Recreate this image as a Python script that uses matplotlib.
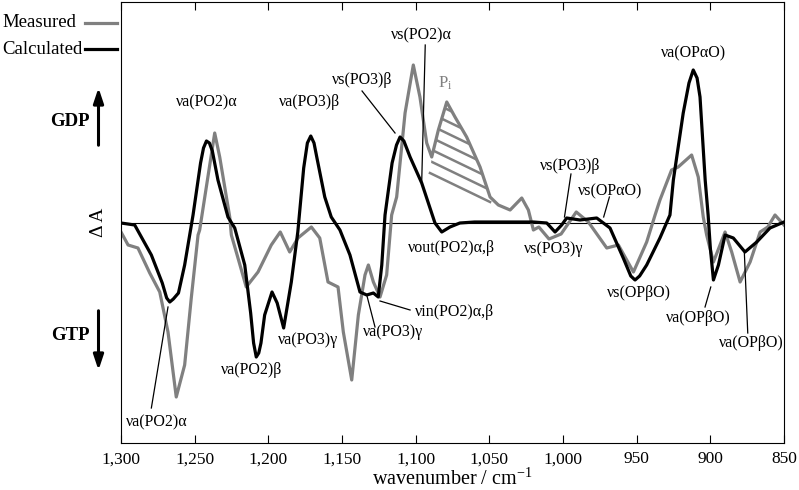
import matplotlib
matplotlib.use('Agg')
import matplotlib.pyplot as plt
from matplotlib.patches import Polygon
from matplotlib.ticker import FuncFormatter
import numpy as np

plt.rcParams['font.family'] = ['Liberation Serif', 'DejaVu Serif']
plt.rcParams['mathtext.fontset'] = 'custom'
plt.rcParams['mathtext.rm'] = 'Liberation Serif'
plt.rcParams['mathtext.it'] = 'Liberation Serif:italic'

# calculated spectrum (wavenumber, delta A in arbitrary units)
calc_x = [1300, 1290.7, 1279.4, 1272, 1269, 1266.9, 1264.5, 1261, 1256.8, 1251.1,
          1246, 1244, 1242, 1240, 1238, 1234.2, 1227.4, 1222.8, 1216, 1212,
          1210, 1208.2, 1206.5, 1205, 1202.5, 1197.5, 1194, 1189.6, 1184.4, 1180,
          1176, 1173.5, 1171.2, 1169, 1167, 1161.7, 1157.3, 1151.4, 1144.6, 1137.8,
          1133.2, 1128.7, 1125.4, 1123, 1120.8, 1116, 1113, 1110.6, 1108, 1103.8,
          1095.9, 1091.4, 1086.9, 1082.3, 1076.7, 1070, 1060, 1040, 1020, 1011,
          1005.4, 1000.9, 997.5, 988.5, 977.1, 968.1, 959.1, 954, 951.1, 948,
          943.2, 934.2, 927.4, 925.1, 918.4, 914.5, 911.6, 909, 907, 903.5,
          901.5, 900, 897.9, 894.5, 890, 884.4, 876.5, 868.5, 859.5, 850]
calc_y = [0, -2, -32, -60, -75, -79, -76, -70, -42, 8,
          60, 75, 82, 80, 72, 43, 6, -5, -42, -90,
          -120, -134, -130, -120, -92, -69, -80, -105, -59, -9,
          55, 80, 87, 80, 65, 26, 6, -7, -32, -69,
          -72, -70, -74, -42, 8, 60, 78, 86, 82, 66,
          40, 20, 0, -9, -4, 0, 1, 1, 1, 0,
          -9, -2, 5, 3, 5, -5, -35, -53, -57, -53,
          -42, -15, 8, 43, 110, 140, 153, 145, 126, 43,
          8, -25, -57, -42, -12, -15, -29, -19, -5, 1]

# measured spectrum
meas_x = [1300, 1295.2, 1288.5, 1280.5, 1273.7, 1268.1, 1262.5, 1256.8, 1252.3, 1247.7,
          1246.6, 1236.4, 1233, 1229.6, 1226.2, 1225.1, 1220.6, 1215, 1207, 1198,
          1191.9, 1185.5, 1179.9, 1170.8, 1165.1, 1159.5, 1152.7, 1149.1, 1143.4, 1138.9,
          1134.4, 1132.1, 1128.7, 1124.2, 1119.7, 1116.3, 1112.9, 1107.2, 1101.6, 1097.1,
          1092.5, 1089.1, 1084.6, 1078.9, 1073.3, 1065.4, 1056.3, 1049.5, 1043.9, 1035.9,
          1028, 1023.5, 1020.1, 1016.4, 1009.5, 1001.3, 991, 982.8, 970.3, 962.4,
          952.2, 943.2, 937.5, 934.2, 926.3, 921.8, 912.7, 908.2, 904.8, 902.5,
          897.9, 890, 885.5, 879.8, 873, 866.2, 861, 856.1, 850]
meas_y = [-9, -22, -25, -50, -69, -109, -174, -142, -75, -12,
          -7, 90, 66, 36, 6, -12, -35, -64, -49, -22,
          -9, -29, -15, -4, -15, -59, -64, -109, -157, -92,
          -52, -42, -59, -74, -52, 8, 26, 110, 158, 126,
          80, 66, 93, 121, 106, 86, 56, 26, 18, 13,
          25, 13, -7, -4, -16, -11, 11, 1, -25, -22,
          -49, -19, 8, 23, 53, 56, 68, 46, 6, -12,
          -39, -9, -29, -59, -39, -9, -4, 8, -2]

# baseline under the Pi band (hatched area)
pi_base_x = [1090.3, 1049.5]
pi_base_y = [50, 21]

# band assignments: (text, x, y, ha, pointer start, pointer end)
labels = [
    (r'νa(PO2)α', 1241.6, 121, 'center', None, None),
    (r'νa(PO3)β', 1171.7, 121, 'center', None, None),
    (r'νs(PO3)β', 1136.0, 143, 'center', (1136.4, 132), (1114, 90)),
    (r'νs(PO2)α', 1096.0, 188, 'center', (1093.5, 178), (1095.9, 41)),
    (r'νout(PO2)α,β', 1075.6, -25, 'center', None, None),
    (r'νin(PO2)α,β', 1100.4, -89, 'left', (1124.2, -78), (1103.8, -87)),
    (r'νa(PO3)γ', 1115.4, -109, 'center', (1133.2, -72), (1127.6, -104)),
    (r'νa(PO2)β', 1211.6, -147, 'center', None, None),
    (r'νa(PO3)γ', 1193.5, -117, 'left', None, None),
    (r'νa(PO2)α', 1275.6, -199, 'center', (1268.1, -84), (1279.4, -185)),
    (r'νs(PO3)γ', 1006.1, -26, 'center', None, None),
    (r'νs(PO3)β', 995.2, 57, 'center', (994.6, 49), (999, 6)),
    (r'νs(OPαO)', 968.1, 32, 'center', (968.5, 26), (972.4, 6)),
    (r'νs(OPβO)', 948.4, -70, 'center', None, None),
    (r'νa(OPβO)', 908.4, -95, 'center', (899.7, -64), (903.6, -84)),
    (r'νa(OPβO)', 872.4, -120, 'center', (876.9, -30), (874.6, -110)),
    (r'νa(OPαO)', 911.6, 170, 'center', None, None),
]

W, H = 799, 490
fig = plt.figure(figsize=(W / 100, H / 100), dpi=100)
ax = fig.add_axes([121 / W, 1 - 443 / H, (784 - 121) / W, (443 - 2) / H])

gray = '#808080'
ax.axhline(0, color='black', lw=0.8, zorder=1)
ax.plot(meas_x, meas_y, color=gray, lw=2.3, zorder=2, solid_joinstyle='round')
ax.plot(calc_x, calc_y, color='black', lw=2.3, zorder=3, solid_joinstyle='round')

# hatched Pi region
mx = np.array(meas_x)
my = np.array(meas_y)
sel = (mx <= pi_base_x[0]) & (mx >= pi_base_x[1])
poly_pts = [(pi_base_x[0], pi_base_y[0])] + list(zip(mx[sel], my[sel])) + [(pi_base_x[1], pi_base_y[1])]
clip = Polygon(poly_pts, closed=True, facecolor='none', edgecolor='none', transform=ax.transData)
ax.add_patch(clip)
ax.plot(pi_base_x, pi_base_y, color=gray, lw=1.8)
slope = (pi_base_y[1] - pi_base_y[0]) / (pi_base_x[1] - pi_base_x[0])
hx = np.array([1100, 1040])
for k in range(1, 8):
    hy = pi_base_y[0] + 12 * k + slope * (hx - pi_base_x[0])
    ln, = ax.plot(hx, hy, color=gray, lw=1.8)
    ln.set_clip_path(clip)
ax.text(1080, 140, r'P$_\mathrm{i}$', color=gray, fontsize=12, ha='center', va='center')

for text, tx, ty, ha, p0, p1 in labels:
    ax.text(tx, ty, text, fontsize=11.5, ha=ha, va='center')
    if p0 is not None:
        ax.plot([p0[0], p1[0]], [p0[1], p1[1]], color='black', lw=0.9)

ax.set_xlim(1300, 850)
ax.set_ylim(-220, 221)
ax.set_xticks(np.arange(1300, 849, -50))
ax.xaxis.set_major_formatter(FuncFormatter(lambda v, p: f'{int(v):,}'))
ax.set_yticks([])
ax.tick_params(axis='x', direction='in', top=True, length=6, width=0.8, labelsize=12.5, pad=6)
for s in ax.spines.values():
    s.set_linewidth(0.8)
ax.set_xlabel(r'wavenumber / cm$^{\mathrm{-1}}$', fontsize=14.5, labelpad=1)


def fpt(px, py):
    return (px / W, 1 - py / H)


# legend outside the axes
fig.text(*fpt(2, 22.7), 'Measured', fontsize=13.5, ha='left', va='center')
fig.text(*fpt(2, 49.3), 'Calculated', fontsize=13.5, ha='left', va='center')
fig.add_artist(plt.Line2D([85 / W, 117 / W], [1 - 22.7 / H] * 2, color=gray, lw=2.3))
fig.add_artist(plt.Line2D([85 / W, 117 / W], [1 - 49.3 / H] * 2, color='black', lw=2.3))

# GDP / GTP arrows and y label
fig.text(*fpt(70, 122), 'GDP', fontsize=13.5, fontweight='bold', ha='center', va='center')
fig.text(*fpt(70, 335), 'GTP', fontsize=13.5, fontweight='bold', ha='center', va='center')
arrow = dict(arrowstyle='-|>,head_length=0.9,head_width=0.3', color='black', lw=2.2)
ax.annotate('', xy=fpt(98.5, 85), xytext=fpt(98.5, 148), xycoords='figure fraction',
            textcoords='figure fraction', arrowprops=arrow)
ax.annotate('', xy=fpt(98.5, 373), xytext=fpt(98.5, 308), xycoords='figure fraction',
            textcoords='figure fraction', arrowprops=arrow)
fig.text(*fpt(98.5, 222), 'Δ A', fontsize=14, rotation=90, ha='center', va='center')

fig.savefig('out.png', dpi=100)
